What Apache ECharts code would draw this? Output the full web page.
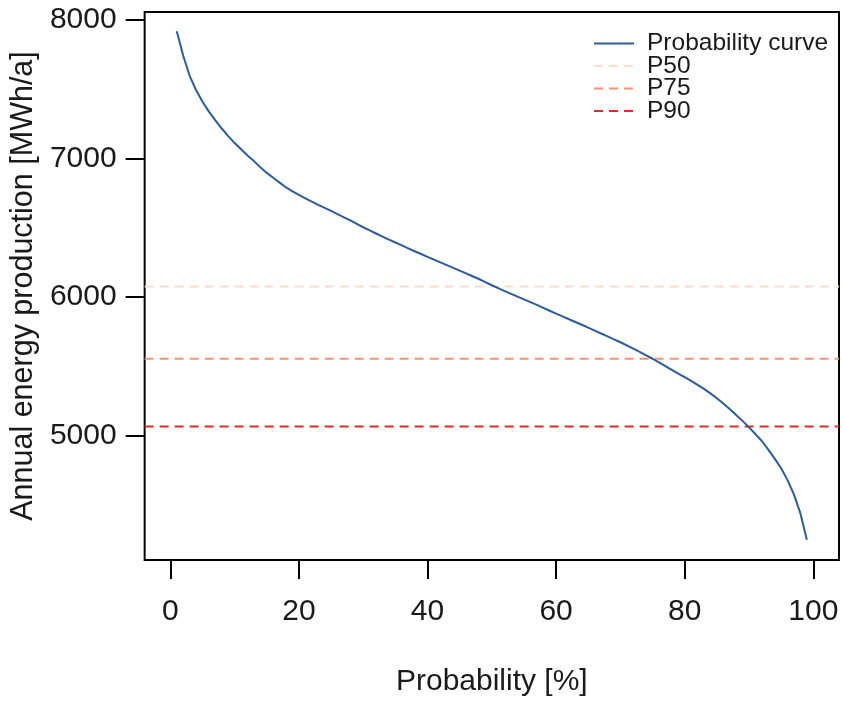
<!DOCTYPE html>
<html>
<head>
<meta charset="utf-8">
<script src="https://cdn.jsdelivr.net/npm/echarts@6/dist/echarts.min.js"></script>
<style>
html,body{margin:0;padding:0;background:#fff;}
#chart{width:842px;height:702px;}
</style>
</head>
<body>
<div id="chart"></div>
<script>
// Probability (%) of exceedance
const probability = [1,2,3,4,5,6,7,8,9,10,11,12,13,14,15,16,17,18,19,20,21,22,23,24,25,26,27,28,29,30,31,32,33,34,35,36,37,38,39,40,41,42,43,44,45,46,47,48,49,50,51,52,53,54,55,56,57,58,59,60,61,62,63,64,65,66,67,68,69,70,71,72,73,74,75,76,77,78,79,80,81,82,83,84,85,86,87,88,89,90,91,92,93,94,95,96,97,98,99];
// Annual energy production (MWh/a)
const energy = [7916,7740,7595,7492,7408,7337,7274,7215,7160,7110,7065,7020,6980,6935,6895,6860,6825,6790,6762,6737,6712,6688,6665,6643,6621,6598,6575,6552,6527,6503,6480,6458,6436,6414,6393,6372,6351,6330,6310,6290,6270,6250,6230,6210,6190,6170,6150,6130,6108,6085,6064,6043,6023,6003,5983,5963,5943,5922,5901,5880,5860,5840,5820,5800,5779,5758,5737,5716,5695,5674,5651,5628,5604,5580,5555,5529,5502,5475,5448,5422,5395,5367,5338,5305,5270,5232,5192,5150,5107,5060,5012,4962,4900,4835,4765,4680,4575,4440,4250];
const pLevelNames = ['P50','P75','P90'];
const pLevelValues = [6075,5555,5066];
const xTicks = [0,20,40,60,80,100];
const yTicks = [5000,6000,7000,8000];

const X_MIN = -4, X_MAX = 104;
const Y_MIN = 4104, Y_MAX = 8055;
const pColors = ['#FDDCCB','#FC9272','#DE2D26'];
const curveColor = '#2C5C9E';
const FONT = 'Liberation Sans, Arial, sans-serif';

const series = [{
  name: 'Probability curve',
  type: 'line',
  data: probability.map((p, i) => [p, energy[i]]),
  showSymbol: false,
  symbol: 'none',
  lineStyle: {color: curveColor, width: 2},
  itemStyle: {color: curveColor},
  z: 3
}];
pLevelNames.forEach((n, i) => {
  series.push({
    name: n,
    type: 'line',
    data: [[X_MIN, pLevelValues[i]], [X_MAX, pLevelValues[i]]],
    symbol: 'none',
    lineStyle: {color: pColors[i], width: 2, type: [9, 6]},
    itemStyle: {color: pColors[i]},
    z: 2
  });
});

const chart = echarts.init(document.getElementById('chart'), null, {renderer: 'canvas'});
chart.setOption({
  animation: false,
  backgroundColor: '#fff',
  grid: {left: 143, top: 12, right: 3, bottom: 140, show: true, borderColor: '#000', borderWidth: 2, backgroundColor: 'transparent'},
  xAxis: {
    type: 'value', min: X_MIN, max: X_MAX,
    axisLine: {show: false, onZero: false},
    splitLine: {show: false},
    axisTick: {show: true, customValues: xTicks, length: 19, inside: false, lineStyle: {color: '#000', width: 2}},
    axisLabel: {customValues: xTicks, margin: 37, fontSize: 30, color: '#1a1a1a', fontFamily: FONT, formatter: v => String(v)},
    name: 'Probability [%]', nameLocation: 'middle', nameGap: 107,
    nameTextStyle: {fontSize: 30, color: '#1a1a1a', fontFamily: FONT}
  },
  yAxis: {
    type: 'value', min: Y_MIN, max: Y_MAX,
    axisLine: {show: false, onZero: false},
    splitLine: {show: false},
    axisTick: {show: true, customValues: yTicks, length: 19, inside: false, lineStyle: {color: '#000', width: 2}},
    axisLabel: {customValues: yTicks, margin: 28, fontSize: 30, color: '#1a1a1a', fontFamily: FONT, formatter: v => String(v)},
    name: 'Annual energy production [MWh/a]', nameLocation: 'middle', nameGap: 92, nameRotate: 90,
    nameTextStyle: {fontSize: 30.5, color: '#1a1a1a', fontFamily: FONT}
  },
  legend: {
    orient: 'vertical', left: 588, top: 26,
    itemWidth: 40, itemHeight: 14, itemGap: -2.5,
    data: ['Probability curve'].concat(pLevelNames),
    itemStyle: {opacity: 0, borderWidth: 0},
    textStyle: {fontSize: 24.5, color: '#1a1a1a', fontFamily: FONT, lineHeight: 22, padding: [0,0,0,8]},
    selectedMode: false
  },
  series: series
});
</script>
</body>
</html>
